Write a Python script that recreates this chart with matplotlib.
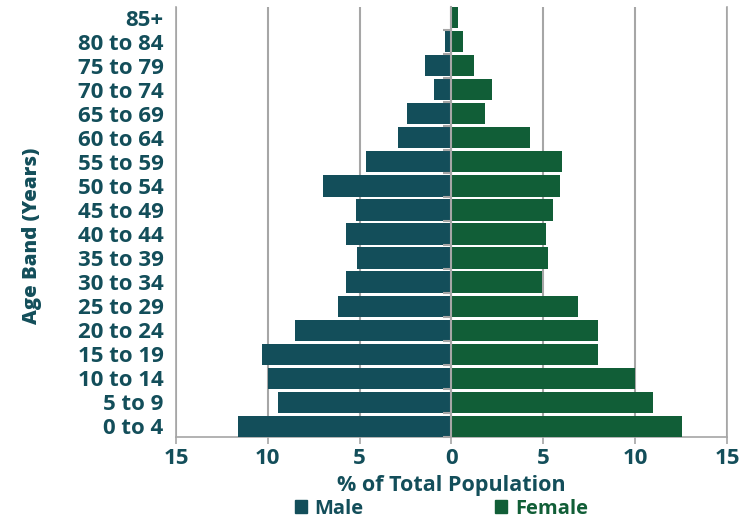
import numpy as np
import matplotlib.pyplot as plt
from matplotlib.patches import Patch

age_bands = ["0 to 4", "5 to 9", "10 to 14", "15 to 19", "20 to 24", "25 to 29",
             "30 to 34", "35 to 39", "40 to 44", "45 to 49", "50 to 54", "55 to 59",
             "60 to 64", "65 to 69", "70 to 74", "75 to 79", "80 to 84", "85+"]
male = [11.6, 9.45, 10.0, 10.3, 8.5, 6.2, 5.75, 5.15, 5.75, 5.2,
        7.0, 4.65, 2.9, 2.4, 0.95, 1.45, 0.35, 0.08]
female = [12.55, 10.95, 10.0, 7.95, 7.95, 6.9, 4.9, 5.25, 5.15, 5.5,
          5.9, 6.0, 4.25, 1.85, 2.2, 1.2, 0.6, 0.33]
xticks = [-15, -10, -5, 0, 5, 10, 15]
xtick_labels = ["15", "10", "5", "0", "5", "10", "15"]

male_color = "#134E5A"
female_color = "#115E37"
text_color = "#134E5A"
grid_color = "#A6A6A6"

plt.rcParams['font.family'] = ['Open Sans', 'DejaVu Sans']

fig = plt.figure(figsize=(7.53, 5.2), dpi=100)
ax = fig.add_axes([0.2337, 0.1596, 0.7318, 0.827])

y = np.arange(len(age_bands))
ax.barh(y, -np.array(male), height=0.88, color=male_color, zorder=3, label="Male")
ax.barh(y, female, height=0.88, color=female_color, zorder=3, label="Female")

ax.set_xlim(-15, 15)
ax.set_ylim(-0.45, len(age_bands) - 0.55)
ax.set_xticks(xticks)
ax.set_xticklabels(xtick_labels)
ax.set_yticks(y)
ax.set_yticklabels(age_bands)
ax.grid(axis="x", color=grid_color, linewidth=1.5, zorder=0)

ax.spines["top"].set_visible(False)
for s in ["left", "bottom", "right"]:
    ax.spines[s].set_color(grid_color)
    ax.spines[s].set_linewidth(1.2)

ax.tick_params(axis="y", length=0, pad=9, labelsize=16, labelcolor=text_color)
ax.tick_params(axis="x", length=5, color=grid_color, width=1.2, pad=3,
               labelsize=16, labelcolor=text_color)
for lab in ax.get_yticklabels() + ax.get_xticklabels():
    lab.set_fontweight("bold")

# centre line with small ticks at band edges
ax2 = ax.twinx()
ax2.set_ylim(ax.get_ylim())
for s in ["top", "bottom", "right"]:
    ax2.spines[s].set_visible(False)
ax2.spines["left"].set_position(("data", 0))
ax2.spines["left"].set_color(grid_color)
ax2.spines["left"].set_linewidth(1.5)
ax2.spines["left"].set_zorder(4)
ax2.yaxis.set_ticks_position("left")
ax2.set_yticks(np.arange(len(age_bands)) - 0.5)
ax2.set_yticklabels([])
ax2.tick_params(axis="y", length=6, color=grid_color, width=1.5)

ax.set_xlabel("% of Total Population", fontsize=15.5, fontweight="bold",
              color=text_color, labelpad=4)
fig.text(32 / 753, 1 - 236 / 520, "Age Band (Years)", rotation=90, ha="center",
         va="center", fontsize=14.7, fontweight="heavy", color=text_color)

handles = [Patch(color=male_color, label="Male"), Patch(color=female_color, label="Female")]
leg = fig.legend(handles=handles, loc="lower center", bbox_to_anchor=(0.586, -0.032),
                 ncol=2, frameon=False, fontsize=14.5, handlelength=0.6, handleheight=0.6,
                 handletextpad=0.4, columnspacing=6.5)
for txt, c in zip(leg.get_texts(), [male_color, female_color]):
    txt.set_color(c)
    txt.set_fontweight("bold")

fig.savefig("out.png", dpi=100)
